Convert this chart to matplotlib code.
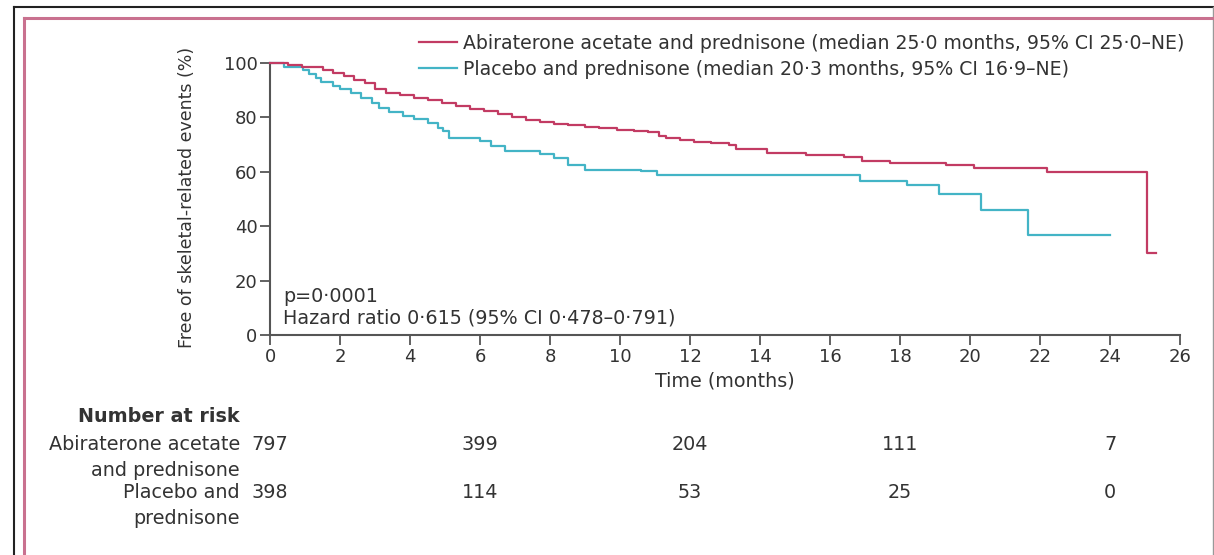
import matplotlib
matplotlib.use("Agg")
import matplotlib.pyplot as plt
from matplotlib.lines import Line2D
from matplotlib.transforms import blended_transform_factory

# Kaplan-Meier step data (months, % free of skeletal-related events)
abi_t = [0, 0.5, 0.9, 1.5, 1.8, 2.1, 2.4, 2.7, 3.0, 3.3, 3.7, 4.1, 4.5, 4.9, 5.3, 5.7,
         6.1, 6.5, 6.9, 7.3, 7.7, 8.1, 8.5, 9.0, 9.4, 9.9, 10.4, 10.8, 11.1, 11.3, 11.7,
         12.1, 12.6, 13.1, 13.3, 14.2, 15.3, 16.4, 16.9, 17.7, 19.3, 20.1, 22.2, 25.07, 25.3]
abi_s = [100, 99.2, 98.4, 97.5, 96.3, 95, 93.8, 92.5, 90.5, 88.8, 88.0, 87.2, 86.3, 85.2, 84.2, 83.0,
         82.2, 81.3, 80.2, 79.0, 78.2, 77.6, 77.1, 76.5, 75.9, 75.2, 74.8, 74.4, 73.2, 72.2, 71.6,
         70.9, 70.4, 69.8, 68.3, 67.0, 66.1, 65.3, 64.0, 63.3, 62.4, 61.2, 60.0, 30, 30]

pla_t = [0, 0.4, 0.95, 1.1, 1.3, 1.45, 1.8, 2.0, 2.3, 2.6, 2.9, 3.1, 3.4, 3.8, 4.1, 4.5,
         4.8, 4.95, 5.1, 6.0, 6.3, 6.7, 7.7, 8.1, 8.5, 9.0, 10.6, 11.05, 16.86, 18.2, 19.1,
         20.3, 21.66, 24.0]
pla_s = [100, 98.5, 97.5, 96, 94.5, 92.8, 91.5, 90.2, 88.8, 87, 85.2, 83.2, 82.0, 80.4, 79.2, 77.7,
         76, 74.8, 72.4, 71.2, 69.4, 67.5, 66.3, 65.0, 62.6, 60.7, 60.1, 58.6, 56.4, 55.2, 51.8,
         45.9, 36.7, 36.7]

labels = ["Abiraterone acetate and prednisone (median 25\u00b70 months, 95% CI 25\u00b70\u2013NE)",
          "Placebo and prednisone (median 20\u00b73 months, 95% CI 16\u00b79\u2013NE)"]

risk_times = [0, 6, 12, 18, 24]
risk_abi = [797, 399, 204, 111, 7]
risk_pla = [398, 114, 53, 25, 0]
risk_names = [["Abiraterone acetate", "and prednisone"], ["Placebo and", "prednisone"]]

red = "#c23b63"
cyan = "#43b4c6"
txt = "#333333"

W, H = 1214, 555
fig = plt.figure(figsize=(W / 100, H / 100), dpi=100)
plt.rcParams['font.family'] = ['DejaVu Sans']
fs = 13.8

def fx(px):
    return px / W

def fy(py):
    return 1 - py / H

ax = fig.add_axes([fx(270), fy(335), fx(1180) - fx(270), fy(62.7) - fy(335)])

ax.step(abi_t, abi_s, where="post", color=red, lw=1.6, label=labels[0], clip_on=False, zorder=3)
ax.step(pla_t, pla_s, where="post", color=cyan, lw=1.6, label=labels[1], clip_on=False)

ax.set_xlim(0, 26)
ax.set_ylim(0, 100)
ax.set_xticks(range(0, 27, 2))
ax.set_yticks(range(0, 101, 20))
for s in ["top", "right"]:
    ax.spines[s].set_visible(False)
for s in ["left", "bottom"]:
    ax.spines[s].set_color("#555555")
    ax.spines[s].set_linewidth(1.5)
ax.tick_params(direction="out", length=7, width=1.3, color="#555555",
               labelsize=13, labelcolor=txt, pad=2)
ax.set_xlabel("Time (months)", fontsize=fs, color=txt, labelpad=4)

fig.text(fx(187), fy(197), "Free of skeletal-related events (%)", rotation=90,
         ha="center", va="center", fontsize=12.5, color=txt)

ax.text(0.37, 14, "p=0\u00b70001", fontsize=fs, color=txt, va="center")
ax.text(0.37, 6.2, "Hazard ratio 0\u00b7615 (95% CI 0\u00b7478\u20130\u00b7791)",
        fontsize=fs, color=txt, va="center")

leg = ax.legend(loc="upper left", bbox_to_anchor=(fx(419), fy(34)),
                bbox_transform=fig.transFigure, frameon=False, fontsize=13.6,
                borderpad=0, borderaxespad=0, handlelength=2.0,
                handletextpad=0.35, labelspacing=0.35)
for t in leg.get_texts():
    t.set_color(txt)

# number at risk table
tr = blended_transform_factory(ax.transData, fig.transFigure)
fig.text(fx(240), fy(416), "Number at risk", ha="right", va="center",
         fontsize=fs, color=txt, fontweight="bold")
row_y = [445, 493]
for name, vals, yy in zip(risk_names, [risk_abi, risk_pla], row_y):
    fig.text(fx(240), fy(yy), name[0], ha="right", va="center", fontsize=fs, color=txt)
    fig.text(fx(240), fy(yy + 26), name[1], ha="right", va="center", fontsize=fs, color=txt)
    for t, v in zip(risk_times, vals):
        ax.text(t, fy(yy), str(v), transform=tr, ha="center", va="center",
                fontsize=fs, color=txt, clip_on=False)

# frame lines
fig.add_artist(Line2D([fx(14), fx(14)], [0, fy(7)], color="#222222", lw=1.5))
fig.add_artist(Line2D([fx(14), fx(1213)], [fy(7), fy(7)], color="#222222", lw=1.5))
fig.add_artist(Line2D([fx(1213), fx(1213)], [0, fy(7)], color="#999999", lw=1.0))
fig.add_artist(Line2D([fx(24), fx(24)], [0, fy(18)], color="#c9718f", lw=2.2))
fig.add_artist(Line2D([fx(24), fx(1212)], [fy(18), fy(18)], color="#c9718f", lw=2.2))

fig.savefig("out.png", dpi=100)
